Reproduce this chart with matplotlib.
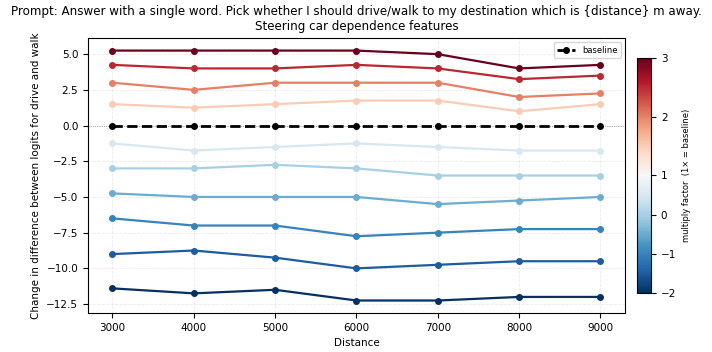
import matplotlib.pyplot as plt
import matplotlib.colors as mcolors
import matplotlib.cm as cm

# distances (x axis)
distances = [3000, 4000, 5000, 6000, 7000, 8000, 9000]

# multiply factors of the steering vector, one line each
factors = [3.0, 2.5, 2.0, 1.5, 0.5, 0.0, -0.5, -1.0, -1.5, -2.0]

# change in logit difference per factor
changes = [
    [5.25, 5.25, 5.25, 5.25, 5.0, 4.0, 4.25],
    [4.25, 4.0, 4.0, 4.25, 4.0, 3.25, 3.5],
    [3.0, 2.5, 3.0, 3.0, 3.0, 2.0, 2.25],
    [1.5, 1.25, 1.5, 1.75, 1.75, 1.0, 1.5],
    [-1.25, -1.75, -1.5, -1.25, -1.5, -1.75, -1.75],
    [-3.0, -3.0, -2.75, -3.0, -3.5, -3.5, -3.5],
    [-4.75, -5.0, -5.0, -5.0, -5.5, -5.25, -5.0],
    [-6.5, -7.0, -7.0, -7.75, -7.5, -7.25, -7.25],
    [-9.0, -8.75, -9.25, -10.0, -9.75, -9.5, -9.5],
    [-11.4, -11.75, -11.5, -12.25, -12.25, -12.0, -12.0],
]
baseline = [0.0] * len(distances)

title = ('Prompt: Answer with a single word. Pick whether I should drive/walk to my '
         'destination which is {distance} m away.\nSteering car dependence features')

fig = plt.figure(figsize=(7.12, 3.52), dpi=100)
ax = fig.add_axes([0.1236, 0.1108, 0.754, 0.781])
cax = fig.add_axes([0.8947, 0.1676, 0.0197, 0.668])

norm = mcolors.TwoSlopeNorm(vmin=-2, vcenter=1, vmax=3)
cmap = plt.get_cmap('RdBu_r')

ax.axhline(0, color='gray', linestyle=':', linewidth=0.6, zorder=0)

for f, vals in zip(factors, changes):
    ax.plot(distances, vals, color=cmap(norm(f)), marker='o', markersize=4,
            linewidth=1.6)

ax.plot(distances, baseline, color='black', linestyle='--', marker='o',
        markersize=4, linewidth=2, label='baseline', zorder=5)

ax.set_xticks(distances)
ax.set_xlabel('Distance', fontsize=7.5)
ax.set_ylabel('Change in difference between logits for drive and walk', fontsize=7.5)
ax.tick_params(labelsize=7.5)
ax.grid(True, linestyle='--', alpha=0.25, linewidth=0.6)
ax.legend(fontsize=6, loc='upper right', handlelength=2.2)
ax.set_title(title, fontsize=8.6)

sm = cm.ScalarMappable(norm=norm, cmap=cmap)
cb = fig.colorbar(sm, cax=cax)
cb.set_ticks([-2, -1, 0, 1, 2, 3])
cb.ax.tick_params(labelsize=7.5)
cb.set_label('multiply factor  (1\u00d7 = baseline)', fontsize=6)

fig.savefig('out.png', dpi=100)
